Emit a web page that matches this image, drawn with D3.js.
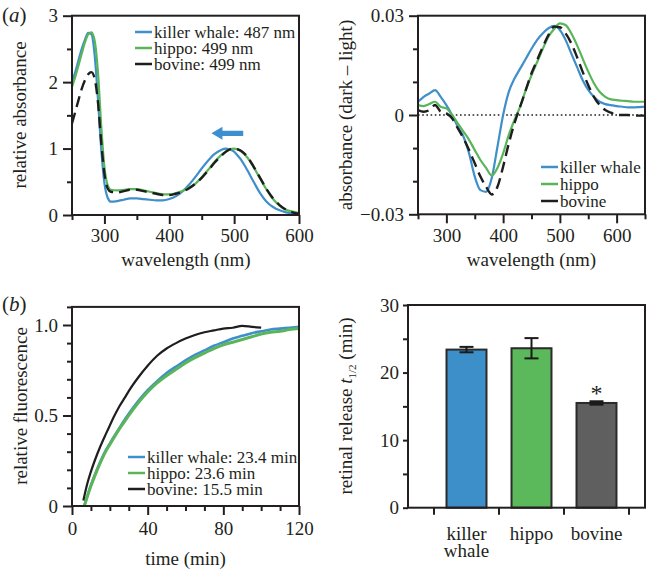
<!DOCTYPE html>
<html><head><meta charset="utf-8">
<script src="https://cdn.jsdelivr.net/npm/d3@7"></script>
<style>
body{margin:0;background:#fff;}
svg text{font-family:"Liberation Serif","Times New Roman",serif;fill:#231f20;}
</style></head><body>
<svg id="c" width="647" height="570"></svg>
<script>
// ---------- DATA ----------
const species = ["killer whale", "hippo", "bovine"];
const speciesColors = ["#3f8fca", "#5ab55a", "#1e1e1e"];

// (a) left: absorbance spectra
const absWl = [250,255,260,265,270,275,280,285,290,295,300,305,310,320,330,340,350,360,370,380,390,400,410,420,430,440,450,460,470,480,487,490,499,505,510,520,530,540,550,560,570,580,590,600];
const absKillerWhale = [2.00,2.15,2.33,2.50,2.64,2.74,2.72,2.40,1.75,1.00,0.48,0.26,0.20,0.21,0.23,0.25,0.25,0.24,0.23,0.22,0.22,0.24,0.28,0.35,0.45,0.57,0.70,0.82,0.92,0.98,1.00,0.995,0.96,0.90,0.84,0.68,0.50,0.33,0.20,0.12,0.07,0.04,0.025,0.02];
const absHippo = [1.93,2.08,2.25,2.43,2.60,2.72,2.75,2.62,2.15,1.35,0.72,0.45,0.38,0.37,0.38,0.39,0.39,0.37,0.35,0.33,0.31,0.31,0.33,0.36,0.41,0.47,0.57,0.68,0.80,0.90,0.95,0.97,1.00,0.99,0.96,0.87,0.72,0.55,0.38,0.24,0.14,0.08,0.05,0.03];
const absBovine = [1.38,1.55,1.73,1.90,2.03,2.12,2.15,2.05,1.70,1.10,0.62,0.40,0.35,0.34,0.36,0.38,0.38,0.36,0.34,0.32,0.30,0.30,0.32,0.35,0.40,0.47,0.56,0.67,0.79,0.89,0.95,0.97,1.00,0.99,0.97,0.88,0.73,0.56,0.39,0.25,0.15,0.08,0.04,0.02];
const absLegend = ["killer whale: 487 nm", "hippo: 499 nm", "bovine: 499 nm"];
const shiftArrow = {from: 514, to: 465, level: 1.23};

// (a) right: dark - light difference spectra
const diffWl = [250,260,270,280,290,300,310,320,330,340,350,360,370,380,390,400,410,420,430,440,450,460,470,480,490,500,510,520,530,540,550,560,570,580,590,600,610,620,630,640,650];
const diffKillerWhale = [0.0040,0.0055,0.0065,0.0075,0.0055,0.0030,0.0000,-0.0035,-0.0065,-0.0116,-0.0186,-0.0227,-0.0232,-0.0190,-0.0096,0.0000,0.0070,0.0110,0.0140,0.0170,0.0200,0.0227,0.0247,0.0262,0.0269,0.0257,0.0227,0.0186,0.0146,0.0106,0.0076,0.0055,0.0040,0.0033,0.0030,0.0027,0.0025,0.0023,0.0023,0.0024,0.0025];
const diffHippo = [0.0030,0.0027,0.0033,0.0040,0.0025,0.0020,0.0000,-0.0025,-0.0050,-0.0075,-0.0106,-0.0136,-0.0160,-0.0183,-0.0160,-0.0116,-0.0060,-0.0015,0.0025,0.0076,0.0120,0.0160,0.0200,0.0237,0.0260,0.0277,0.0272,0.0247,0.0212,0.0171,0.0131,0.0096,0.0070,0.0055,0.0047,0.0045,0.0043,0.0042,0.0040,0.0040,0.0040];
const diffBovine = [0.0015,0.0010,0.0015,0.0030,0.0010,0.0005,-0.0010,-0.0040,-0.0070,-0.0106,-0.0146,-0.0186,-0.0217,-0.0240,-0.0217,-0.0156,-0.0086,-0.0025,0.0025,0.0076,0.0126,0.0166,0.0206,0.0242,0.0267,0.0265,0.0247,0.0217,0.0176,0.0131,0.0090,0.0055,0.0030,0.0015,0.0007,0.0000,0.0000,0.0000,-0.0002,-0.0002,-0.0002];
const diffLegend = ["killer whale", "hippo", "bovine"];

// (b) left: retinal release kinetics
const timeKW = [6.5,8,10,12,15,18,20,22,25,28,30,35,40,45,50,55,60,65,70,75,80,85,90,95,100,105,110,115,120];
const fluorKillerWhale = [0.0,0.05,0.115,0.17,0.245,0.31,0.345,0.38,0.43,0.48,0.51,0.58,0.64,0.69,0.735,0.77,0.805,0.835,0.86,0.885,0.905,0.925,0.94,0.955,0.965,0.975,0.98,0.985,0.99];
const timeHippo = [6.5,8,10,12,15,18,20,22,25,28,30,35,40,45,50,55,60,65,70,75,80,85,90,95,100,105,110,115,120];
const fluorHippo = [0.0,0.05,0.11,0.165,0.24,0.305,0.34,0.375,0.425,0.47,0.50,0.57,0.63,0.68,0.72,0.755,0.79,0.82,0.845,0.87,0.89,0.905,0.92,0.935,0.95,0.96,0.965,0.975,0.98];
const timeBovine = [6,8,10,12,15,18,20,22,25,28,30,35,40,45,50,55,60,65,70,75,80,85,90,95,100];
const fluorBovine = [0.03,0.12,0.19,0.25,0.33,0.40,0.445,0.49,0.55,0.60,0.635,0.71,0.775,0.83,0.87,0.90,0.925,0.945,0.96,0.97,0.98,0.985,0.995,0.99,0.985];
const fluorLegend = ["killer whale: 23.4 min", "hippo: 23.6 min", "bovine: 15.5 min"];

// (b) right: half-life bars
const halfLife = [23.4, 23.6, 15.5];
const halfLifeErr = [0.4, 1.5, 0.25];
const barColors = ["#3d8fc9", "#5bb85b", "#5f5f5f"];
const significant = [false, false, true];

// ---------- DRAWING ----------
const ink = "#231f20";
const svg = d3.select("#c");
const FS = 19;

function zip(xs, ys){ return xs.map((x,i)=>[x, ys[i]]); }

function frame(x, y, o){
  const [x0,x1] = x.range(), [y0,y1] = y.range();
  const g = svg.append("g");
  const styleAxis = sel => {
    sel.attr("font-family", null).attr("font-size", null);
    sel.select(".domain").remove();
    sel.selectAll(".tick line").attr("stroke", ink).attr("stroke-width", 2);
    sel.selectAll(".tick text").style("font-size", FS + "px").attr("fill", ink);
  };
  if (o.xMajor){
    g.append("g").attr("transform",`translate(0,${y0})`)
     .call(d3.axisBottom(x).tickValues(o.xMinor).tickSize(5).tickFormat("")).call(styleAxis);
    g.append("g").attr("transform",`translate(0,${y0})`)
     .call(d3.axisBottom(x).tickValues(o.xMajor).tickSize(9).tickPadding(o.xPad||5).tickFormat(o.xFmt)).call(styleAxis);
  }
  g.append("g").attr("transform",`translate(${x0},0)`)
   .call(d3.axisLeft(y).tickValues(o.yMinor).tickSize(o.yMinorSize||5).tickFormat("")).call(styleAxis);
  g.append("g").attr("transform",`translate(${x0},0)`)
   .call(d3.axisLeft(y).tickValues(o.yMajor).tickSize(o.yMajorSize||9).tickPadding(o.yPad||5).tickFormat(o.yFmt)).call(styleAxis);
  return g;
}
function box(x, y){
  const [x0,x1] = x.range(), [y0,y1] = y.range();
  svg.append("rect").attr("x",x0).attr("y",y1).attr("width",x1-x0).attr("height",y0-y1)
    .attr("fill","none").attr("stroke",ink).attr("stroke-width",2);
}
function yTitle(tx, ty, text){
  return svg.append("text").attr("transform",`translate(${tx},${ty}) rotate(-90)`)
    .attr("text-anchor","middle").style("font-size",FS+"px").text(text);
}
function xTitle(tx, ty, text){
  svg.append("text").attr("x",tx).attr("y",ty).attr("text-anchor","middle").style("font-size",FS+"px").text(text);
}
function legend(x0, rows, labels, colors){
  labels.forEach((lab,i)=>{
    svg.append("line").attr("x1",x0).attr("x2",x0+17).attr("y1",rows[i]).attr("y2",rows[i])
      .attr("stroke",colors[i]).attr("stroke-width",2.5);
    svg.append("text").attr("x",x0+19).attr("y",rows[i]+6).style("font-size","17px").text(lab);
  });
}
function panelLabel(x, y, letter){
  const t = svg.append("text").attr("x",x).attr("y",y).style("font-size","21px");
  t.append("tspan").text("(");
  t.append("tspan").style("font-style","italic").text(letter);
  t.append("tspan").text(")");
}

// ---- Panel (a) left ----
{
  const x = d3.scaleLinear().domain([250,600]).range([72,299]);
  const y = d3.scaleLinear().domain([0,3]).range([215,15.7]);
  const line = d3.line().x(d=>x(d[0])).y(d=>y(d[1])).curve(d3.curveMonotoneX);
  svg.append("clipPath").attr("id","clipA").append("rect")
    .attr("x",72).attr("y",15.7).attr("width",227).attr("height",199.3);
  const g = svg.append("g").attr("clip-path","url(#clipA)");
  g.append("path").attr("d",line(zip(absWl,absKillerWhale))).attr("fill","none").attr("stroke",speciesColors[0]).attr("stroke-width",2.2);
  g.append("path").attr("d",line(zip(absWl,absHippo))).attr("fill","none").attr("stroke",speciesColors[1]).attr("stroke-width",2.2);
  g.append("path").attr("d",line(zip(absWl,absBovine))).attr("fill","none").attr("stroke",speciesColors[2]).attr("stroke-width",2.4).attr("stroke-dasharray","11,6");
  // arrow
  const ay = y(shiftArrow.level), xt = x(shiftArrow.to), xf = x(shiftArrow.from), hb = xt + 11;
  svg.append("path").attr("d",`M${xt},${ay} L${hb},${ay-6.5} L${hb},${ay-2.6} L${xf},${ay-2.6} L${xf},${ay+2.6} L${hb},${ay+2.6} L${hb},${ay+6.5} Z`)
    .attr("fill","#3d8fd0");
  frame(x, y, {xMajor:[300,400,500,600], xMinor:[250,350,450,550], xFmt:d3.format("d"),
               yMajor:[0,1,2,3], yMinor:[0.5,1.5,2.5], yFmt:d3.format("d")});
  box(x, y);
  legend(135, [32,48,64], absLegend, speciesColors);
  yTitle(26, 115, "relative absorbance");
  xTitle(186, 266, "wavelength (nm)");
  panelLabel(2, 22, "a");
}

// ---- Panel (a) right ----
{
  const x = d3.scaleLinear().domain([250,650]).range([418,645]);
  const y = d3.scaleLinear().domain([-0.03,0.03]).range([214.3,15.7]);
  const line = d3.line().x(d=>x(d[0])).y(d=>y(d[1])).curve(d3.curveMonotoneX);
  svg.append("line").attr("x1",x(250)).attr("x2",x(650)).attr("y1",y(0)).attr("y2",y(0))
    .attr("stroke",ink).attr("stroke-width",1.6).attr("stroke-dasharray","1.6,2.6");
  svg.append("path").attr("d",line(zip(diffWl,diffKillerWhale))).attr("fill","none").attr("stroke",speciesColors[0]).attr("stroke-width",2.2);
  svg.append("path").attr("d",line(zip(diffWl,diffHippo))).attr("fill","none").attr("stroke",speciesColors[1]).attr("stroke-width",2.2);
  svg.append("path").attr("d",line(zip(diffWl,diffBovine))).attr("fill","none").attr("stroke",speciesColors[2]).attr("stroke-width",2.4).attr("stroke-dasharray","11,6");
  frame(x, y, {xMajor:[300,400,500,600], xMinor:[250,350,450,550,650], xFmt:d3.format("d"),
               yMajor:[-0.03,0,0.03], yMinor:[-0.02,-0.01,0.01,0.02],
               yFmt:d=> d===0 ? "0" : (d<0 ? "\u22120.03" : "0.03")});
  box(x, y);
  legend(541, [167,184,201], diffLegend, speciesColors);
  yTitle(352, 115, "absorbance (dark \u2013 light)");
  xTitle(531.5, 266, "wavelength (nm)");
}

// ---- Panel (b) left ----
{
  const x = d3.scaleLinear().domain([0,120]).range([72,299]);
  const y = d3.scaleLinear().domain([0,1.1]).range([506,306.9]);
  const line = d3.line().x(d=>x(d[0])).y(d=>y(d[1])).curve(d3.curveMonotoneX);
  svg.append("path").attr("d",line(zip(timeKW,fluorKillerWhale))).attr("fill","none").attr("stroke",speciesColors[0]).attr("stroke-width",2.6);
  svg.append("path").attr("d",line(zip(timeHippo,fluorHippo))).attr("fill","none").attr("stroke",speciesColors[1]).attr("stroke-width",3);
  svg.append("path").attr("d",line(zip(timeBovine,fluorBovine))).attr("fill","none").attr("stroke",speciesColors[2]).attr("stroke-width",2.2);
  frame(x, y, {xMajor:[0,40,80,120], xMinor:[10,20,30,50,60,70,90,100,110], xFmt:d3.format("d"), xPad:7,
               yMajor:[0,0.5,1.0], yMinor:[0.1,0.2,0.3,0.4,0.6,0.7,0.8,0.9,1.1],
               yFmt:d=> d===0 ? "0" : d3.format(".1f")(d)});
  box(x, y);
  legend(128, [457,473,489], fluorLegend, speciesColors);
  yTitle(27, 406, "relative fluorescence");
  xTitle(185.5, 565, "time (min)");
  panelLabel(2, 311, "b");
}

// ---- Panel (b) right ----
{
  const x = d3.scaleBand().domain(species).range([434,629]).paddingInner(0.385).paddingOuter(0.1925);
  const y = d3.scaleLinear().domain([0,30]).range([507.7,305]);
  const xr = d3.scaleLinear().range([408,645]);
  frame(xr, y, {yMajor:[0,10,20,30], yMinor:[5,15,25], yFmt:d3.format("d"), yMajorSize:5, yMinorSize:5, yPad:4});
  // bars
  species.forEach((s,i)=>{
    svg.append("rect").attr("x",x(s)).attr("y",y(halfLife[i])).attr("width",x.bandwidth())
      .attr("height",y(0)-y(halfLife[i])).attr("fill",barColors[i]).attr("stroke","#2a2a2a").attr("stroke-width",2);
    const cx = x(s)+x.bandwidth()/2, top = y(halfLife[i]+halfLifeErr[i]), bot = y(halfLife[i]-halfLifeErr[i]);
    if (halfLifeErr[i] < 0.3){
      svg.append("rect").attr("x",cx-7).attr("y",top-1).attr("width",14).attr("height",bot-top+2).attr("fill","#1a1a1a");
    } else {
      svg.append("line").attr("x1",cx).attr("x2",cx).attr("y1",top).attr("y2",bot).attr("stroke","#1a1a1a").attr("stroke-width",2);
      [top,bot].forEach(v=>svg.append("line").attr("x1",cx-7).attr("x2",cx+7).attr("y1",v).attr("y2",v).attr("stroke","#1a1a1a").attr("stroke-width",2));
    }
    if (significant[i]){
      svg.append("text").attr("x",cx).attr("y",top+0).attr("text-anchor","middle").style("font-size","24px").text("*");
    }
    // category labels
    const words = s === "killer whale" ? ["killer","whale"] : [s];
    words.forEach((w,j)=>{
      svg.append("text").attr("x",cx).attr("y",540+j*17).attr("text-anchor","middle").style("font-size",FS+"px").text(w);
    });
  });
  // category boundary ticks
  const step = x.step(), bounds = species.map(s=>x(s)-(step-x.bandwidth())/2);
  bounds.push(bounds[bounds.length-1]+step);
  bounds.forEach(b=>svg.append("line").attr("x1",b).attr("x2",b).attr("y1",y(0)).attr("y2",y(0)+7).attr("stroke",ink).attr("stroke-width",2));
  box(xr, y);
  const t = svg.append("text").attr("transform",`translate(352,406) rotate(-90)`).attr("text-anchor","middle").style("font-size",FS+"px");
  t.append("tspan").text("retinal release ");
  t.append("tspan").style("font-style","italic").text("t");
  t.append("tspan").attr("dy",4).style("font-size","11px").text("1/2");
  t.append("tspan").attr("dy",-4).text(" (min)");
}
</script>
</body></html>
